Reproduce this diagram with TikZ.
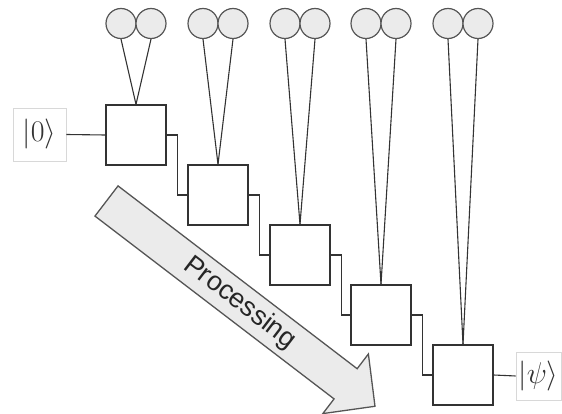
\RequirePackage{fix-cm}
\documentclass[tikz,border=0pt]{standalone}
\usepackage{fontspec}
\newfontfamily\labelfont{Liberation Sans}
\usetikzlibrary{calc}
\definecolor{ballfill}{HTML}{EBEBEB}
\definecolor{edge}{HTML}{333333}
\definecolor{balledge}{HTML}{555555}
\definecolor{ketedge}{HTML}{D8D8D8}
\begin{document}
\begin{tikzpicture}[x=1pt,y=-1pt,
  gate/.style={draw=edge, line width=1.3pt, fill=white, minimum size=60pt, inner sep=0pt},
  ball/.style={circle, draw=balledge, line width=1.2pt, fill=ballfill, minimum size=30pt, inner sep=0pt},
  wire/.style={draw=edge, line width=1.1pt},
  ket/.style={draw=ketedge, line width=0.6pt, inner sep=0pt, text=black!80, font=\fontsize{30}{36}\selectfont},
  bigarrow/.style={draw=balledge, line width=1.3pt, fill=ballfill, line join=miter},
  proclabel/.style={font=\labelfont\fontsize{27}{32}\selectfont, text=black!85, inner sep=0pt}]
\useasboundingbox (0,0) rectangle (562,414);

% processing arrow, drawn first so the gates sit on top of it
\begin{scope}[shift={(106.5,201)}, rotate=-37.4]
  \draw[bigarrow] (0,-19) -- (301,-19) -- (301,-37.5) -- (338,0)
                  -- (301,37.5) -- (301,19) -- (0,19) -- cycle;
  \node[proclabel, rotate=-37.4] (proc) at (168,0) {Processing};
\end{scope}

% input and output states
\node[ket, minimum width=53pt, minimum height=53pt] (in) at (39.5,134.5) {$|0\rangle$};
\node[ket, minimum width=45pt, minimum height=48pt] (out) at (538.5,376) {$|\psi\rangle$};

% gates with their pairs of circles
\foreach \i/\x/\y in {1/136/135, 2/218/195, 3/300/255, 4/381/315, 5/463/375}{
  \node[gate] (g\i) at (\x,\y) {};
  \node[ball] (l\i) at (\x-15,23.5) {};
  \node[ball] (r\i) at (\x+15,23.5) {};
  \draw[wire] (l\i.south) -- (g\i.north);
  \draw[wire] (r\i.south) -- (g\i.north);
}

% chain of wires
\draw[wire] (in.east) -- (g1.west);
\foreach \a/\b in {1/2, 2/3, 3/4, 4/5}{
  \draw[wire] (g\a.east) -- ++(11,0) |- (g\b.west);
}
\draw[wire] (g5.east) -- (out.west);
\end{tikzpicture}
\end{document}
